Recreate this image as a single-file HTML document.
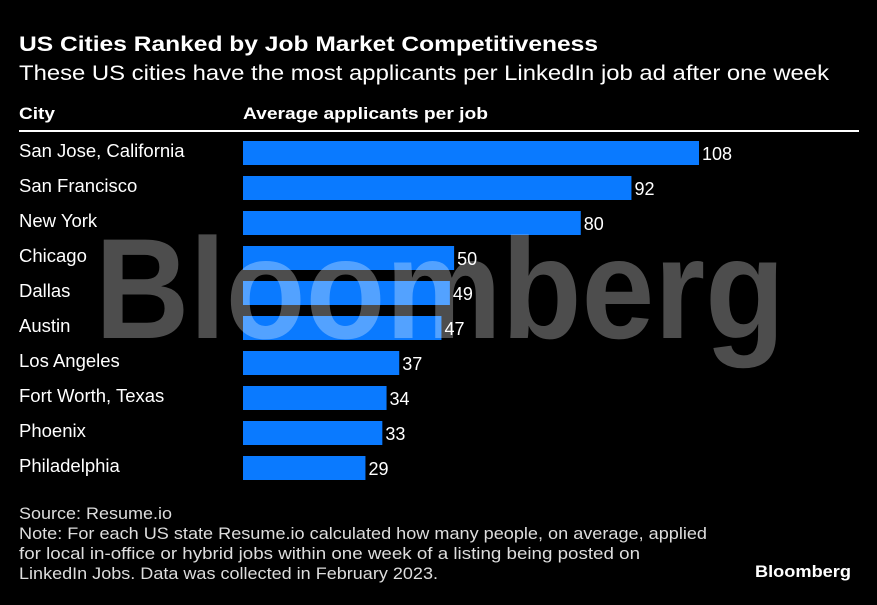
<!DOCTYPE html>
<html><head><meta charset="utf-8"><style>
body{margin:0;background:#000;width:877px;height:600px;overflow:hidden;font-family:"Liberation Sans",sans-serif;color:#fff}
</style></head><body>
<svg width="877" height="600" xmlns="http://www.w3.org/2000/svg" font-family="Liberation Sans, sans-serif">
<rect width="877" height="600" fill="#000"/>
<text x="19" y="51" font-size="21" font-weight="bold" fill="#fff" textLength="579" lengthAdjust="spacingAndGlyphs">US Cities Ranked by Job Market Competitiveness</text>
<text x="19" y="80" font-size="21" fill="#fff" textLength="810" lengthAdjust="spacingAndGlyphs">These US cities have the most applicants per LinkedIn job ad after one week</text>
<text x="19" y="119" font-size="17" font-weight="bold" fill="#fff" textLength="36" lengthAdjust="spacingAndGlyphs">City</text>
<text x="243" y="119" font-size="17" font-weight="bold" fill="#fff" textLength="245" lengthAdjust="spacingAndGlyphs">Average applicants per job</text>
<rect x="19" y="130" width="840" height="2" fill="#fff"/>
<g id="bars"></g>
<text x="95" y="338" font-size="143" font-weight="bold" fill="#fff" fill-opacity="0.3" textLength="690" lengthAdjust="spacingAndGlyphs">Bloomberg</text>
<text x="19" y="519" font-size="17" fill="#ddd" textLength="153" lengthAdjust="spacingAndGlyphs">Source: Resume.io</text>
<text x="19" y="539" font-size="17" fill="#ddd" textLength="688" lengthAdjust="spacingAndGlyphs">Note: For each US state Resume.io calculated how many people, on average, applied</text>
<text x="19" y="559" font-size="17" fill="#ddd" textLength="621" lengthAdjust="spacingAndGlyphs">for local in-office or hybrid jobs within one week of a listing being posted on</text>
<text x="19" y="579" font-size="17" fill="#ddd" textLength="419" lengthAdjust="spacingAndGlyphs">LinkedIn Jobs. Data was collected in February 2023.</text>
<text x="851" y="577" font-size="17" font-weight="bold" fill="#fff" text-anchor="end" textLength="96" lengthAdjust="spacingAndGlyphs">Bloomberg</text>
</svg>
<script>
const cities = ["San Jose, California","San Francisco","New York","Chicago","Dallas","Austin","Los Angeles","Fort Worth, Texas","Phoenix","Philadelphia"];
const values = [108,92,80,50,49,47,37,34,33,29];
const NS="http://www.w3.org/2000/svg";
const g=document.getElementById('bars');
const x0=243, xScale=v=>v*(456/108);
const yPos=i=>141+i*35;
cities.forEach((c,i)=>{
  const y=yPos(i);
  const t=document.createElementNS(NS,'text');
  t.setAttribute('x',19);t.setAttribute('y',y+16);t.setAttribute('font-size',18.5);t.setAttribute('fill','#fff');
  t.textContent=c;
  
  
  g.appendChild(t);
  const r=document.createElementNS(NS,'rect');
  r.setAttribute('x',x0);r.setAttribute('y',y);r.setAttribute('width',xScale(values[i]));r.setAttribute('height',24);r.setAttribute('fill','#0a7aff');
  
  
  g.appendChild(r);
  const v=document.createElementNS(NS,'text');
  v.setAttribute('x',x0+xScale(values[i])+3);v.setAttribute('y',y+19);v.setAttribute('font-size',18);v.setAttribute('fill','#fff');
  v.textContent=values[i];
  
  
  g.appendChild(v);
});
</script>
</body></html>
